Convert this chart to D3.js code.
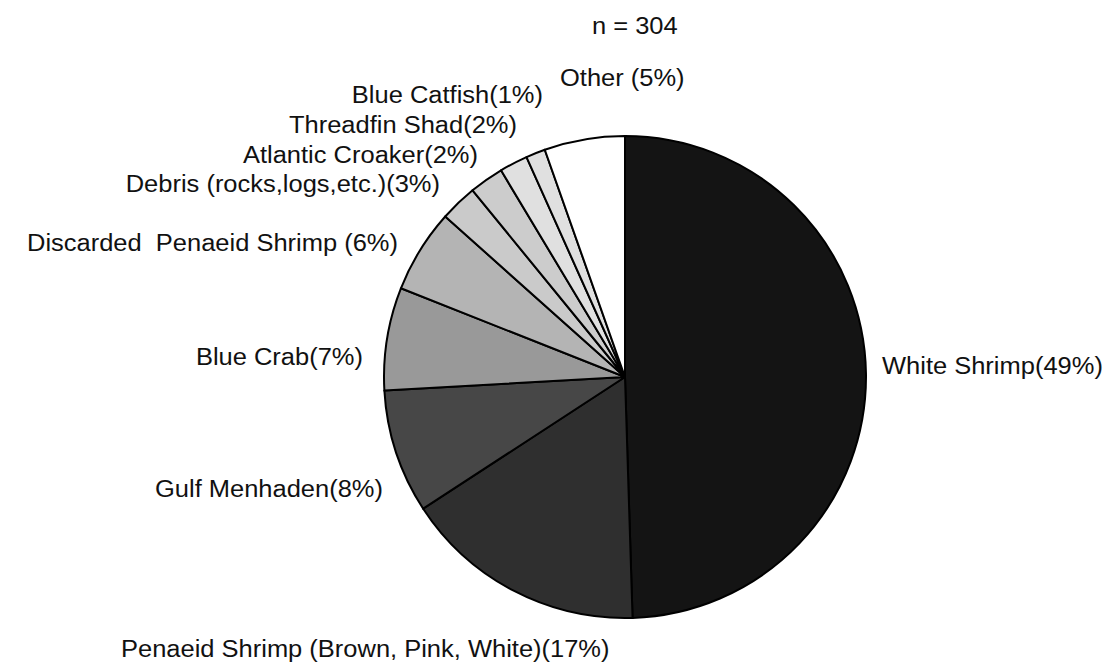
<!DOCTYPE html>
<html>
<head>
<meta charset="utf-8">
<script src="https://cdn.jsdelivr.net/npm/d3@7"></script>
<style>
  html, body { margin: 0; padding: 0; background: #fff; }
  svg { display: block; }
  text { font-family: "Liberation Sans", Arial, Helvetica, sans-serif; font-size: 23.5px; fill: #111; }
</style>
</head>
<body>
<svg id="chart" width="1114" height="662"></svg>
<script>
// Data (clockwise from 12 o'clock)
const categories = [
  "White Shrimp", "Penaeid Shrimp (Brown, Pink, White)", "Gulf Menhaden", "Blue Crab",
  "Discarded  Penaeid Shrimp", "Debris (rocks,logs,etc.)", "Atlantic Croaker",
  "Threadfin Shad", "Blue Catfish", "Other"
];
const values = [49.5, 16.3, 8.3, 6.9, 5.6, 2.5, 2.3, 1.9, 1.3, 5.4];
const labels = [
  "White Shrimp(49%)", "Penaeid Shrimp (Brown, Pink, White)(17%)", "Gulf Menhaden(8%)",
  "Blue Crab(7%)", "Discarded  Penaeid Shrimp (6%)", "Debris (rocks,logs,etc.)(3%)",
  "Atlantic Croaker(2%)", "Threadfin Shad(2%)", "Blue Catfish(1%)", "Other (5%)"
];
const fills = ["#141414", "#2f2f2f", "#474747", "#999999", "#b4b4b4", "#cacaca", "#cccccc", "#e0e0e0", "#e0e0e0", "#ffffff"];
const sampleSize = "n = 304";

// Layout
const cx = 625, cy = 377, radius = 241;
const sx = 1.085;
const labelPos = [
  {x: 882, y: 374, anchor: "start"},
  {x: 121, y: 657, anchor: "start"},
  {x: 383, y: 497, anchor: "end"},
  {x: 363, y: 365, anchor: "end"},
  {x: 398, y: 251, anchor: "end"},
  {x: 440, y: 192, anchor: "end"},
  {x: 478, y: 163, anchor: "end"},
  {x: 517, y: 133, anchor: "end"},
  {x: 543, y: 103, anchor: "end"},
  {x: 560, y: 86, anchor: "start"}
];

const svg = d3.select("#chart");
const g = svg.append("g").attr("transform", `translate(${cx},${cy})`);

const data = categories.map((c, i) => ({cat: c, value: values[i], i}));
const pie = d3.pie().value(d => d.value).sort(null);
const arc = d3.arc().innerRadius(0).outerRadius(radius);

g.selectAll("path.slice")
  .data(pie(data))
  .join("path")
  .attr("class", "slice")
  .attr("d", arc)
  .attr("fill", d => fills[d.data.i])
  .attr("stroke", "#000")
  .attr("stroke-width", 2)
  .attr("stroke-linejoin", "round");

svg.selectAll("text.lbl")
  .data(labels)
  .join("text")
  .attr("class", "lbl")
  .attr("transform", (d, i) => `translate(${labelPos[i].x},${labelPos[i].y}) scale(${sx},1)`)
  .attr("text-anchor", (d, i) => labelPos[i].anchor)
  .style("white-space", "pre")
  .attr("xml:space", "preserve")
  .text(d => d);

svg.append("text")
  .attr("transform", `translate(592,34) scale(${sx},1)`)
  .text(sampleSize);
</script>
</body>
</html>
